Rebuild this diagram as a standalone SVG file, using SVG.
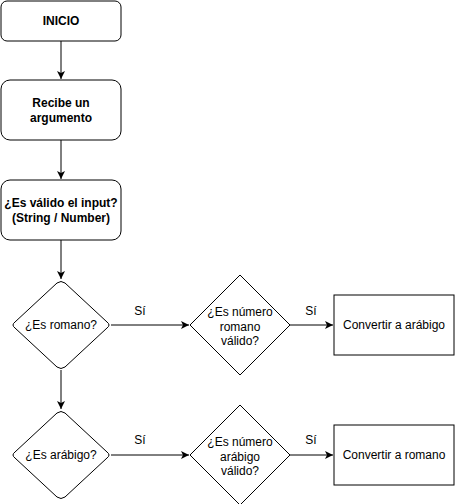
<svg xmlns="http://www.w3.org/2000/svg" width="455" height="504" viewBox="0 0 455 504">
<defs>
<marker id="arr" markerWidth="10" markerHeight="10" refX="8" refY="4" orient="auto" markerUnits="userSpaceOnUse">
<path d="M0,0 L8,4 L0,8 L2,4 Z" fill="#000"/>
</marker>
<style>
.n{fill:#fff;stroke:#000;stroke-width:1}
.t{font-family:"Liberation Sans",Arial,sans-serif;font-size:12px;fill:#000;text-anchor:middle}
.b{font-weight:bold}
.c{fill:none;stroke:#000;stroke-width:1;marker-end:url(#arr)}
</style>
</defs>
<rect width="455" height="504" fill="#fff"/>
<g id="connectors">
<line class="c" x1="61" y1="41" x2="61" y2="79"/>
<line class="c" x1="61" y1="140" x2="61" y2="179"/>
<line class="c" x1="61" y1="240" x2="61" y2="279"/>
<line class="c" x1="61" y1="370" x2="61" y2="409"/>
<line class="c" x1="111" y1="325" x2="189" y2="325"/>
<line class="c" x1="290" y1="325" x2="333" y2="325"/>
<line class="c" x1="111" y1="455" x2="189" y2="455"/>
<line class="c" x1="290" y1="455" x2="333" y2="455"/>
<text class="t" x="140" y="315">Sí</text>
<text class="t" x="311" y="315">Sí</text>
<text class="t" x="140" y="444">Sí</text>
<text class="t" x="311" y="444">Sí</text>
</g>
<g id="inicio">
<rect class="n" x="1" y="1" width="120" height="40" rx="6"/>
<text class="t b" x="61" y="25">INICIO</text>
</g>
<g id="recibe">
<rect class="n" x="1" y="80" width="120" height="60" rx="9"/>
<text class="t b" x="61" y="107">Recibe un</text>
<text class="t b" x="61" y="122">argumento</text>
</g>
<g id="valido">
<rect class="n" x="1" y="180" width="120" height="60" rx="9"/>
<text class="t b" x="61" y="207">¿Es válido el input?</text>
<text class="t b" x="61" y="222">(String / Number)</text>
</g>
<g id="esromano">
<path class="n" d="M57,283 Q61,280 65,283 L107,322 Q111,325 107,328 L65,367 Q61,370 57,367 L15,328 Q11,325 15,322 Z"/>
<text class="t" x="61" y="329">¿Es romano?</text>
</g>
<g id="romanovalido">
<path class="n" d="M240,275 L290,325 L240,375 L190,325 Z"/>
<text class="t" x="240" y="316">¿Es número</text>
<text class="t" x="240" y="331">romano</text>
<text class="t" x="240" y="345">válido?</text>
</g>
<g id="convarabigo">
<rect class="n" x="334" y="295" width="120" height="60"/>
<text class="t" x="394" y="329">Convertir a arábigo</text>
</g>
<g id="esarabigo">
<path class="n" d="M57,413 Q61,410 65,413 L107,452 Q111,455 107,458 L65,497 Q61,500 57,497 L15,458 Q11,455 15,452 Z"/>
<text class="t" x="61" y="459">¿Es arábigo?</text>
</g>
<g id="arabigovalido">
<path class="n" d="M240,405 L290,455 L240,505 L190,455 Z"/>
<text class="t" x="240" y="446">¿Es número</text>
<text class="t" x="240" y="461">arábigo</text>
<text class="t" x="240" y="475">válido?</text>
</g>
<g id="convromano">
<rect class="n" x="334" y="425" width="120" height="60"/>
<text class="t" x="394" y="459">Convertir a romano</text>
</g>
</svg>
